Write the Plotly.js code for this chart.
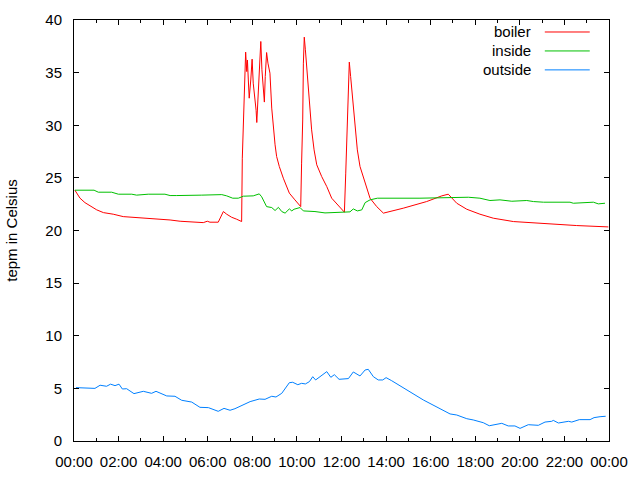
<!DOCTYPE html>
<html>
<head>
<meta charset="utf-8">
<script src="https://cdn.plot.ly/plotly-3.0.1.min.js"></script>
<style>
  body { margin: 0; background: #fff; }
  #plot { width: 640px; height: 480px; }
</style>
</head>
<body>
<div id="plot"></div>
<script>
// hours of the day for each series, temperatures
let boilerHours = [0.04, 0.27, 0.49, 0.72, 1.02, 1.32, 1.76, 2.21, 2.89, 3.56, 4.31, 4.76, 5.65, 5.8, 5.98, 6.1, 6.47, 6.7, 6.85, 7.07, 7.3, 7.49,
    7.52, 7.55, 7.6, 7.64, 7.7, 7.75, 7.78, 7.82, 7.86, 7.93, 7.99, 8.04, 8.11, 8.17, 8.2, 8.27, 8.31, 8.38, 8.43, 8.49, 8.54, 8.58, 8.64, 8.7, 8.79,
    8.87, 8.94, 9.02, 9.09, 9.21, 9.39, 9.66, 9.91, 10.17, 10.21, 10.26, 10.29, 10.33, 10.38, 10.44, 10.51, 10.59, 10.66, 10.77, 10.89, 11.11,
    11.34, 11.56, 11.86, 12.13, 12.19, 12.24, 12.31, 12.35, 12.41, 12.5, 12.6, 12.71, 12.83, 13.06, 13.28, 13.58, 13.88, 14.77, 15.82, 16.5,
    16.79, 17.17, 17.62, 18.21, 18.81, 19.71, 20.91, 21.8, 22.55, 23.97];
let boilerTemp = [23.83, 23.07, 22.65, 22.37, 21.96, 21.7, 21.55, 21.32, 21.23, 21.13, 21.0, 20.88, 20.82, 20.75, 20.88, 20.79, 20.79, 21.8, 21.55, 21.26, 21.07, 20.85,
    20.85, 26.87, 30.83, 34.0, 36.95, 35.1, 36.2, 34.3, 32.57, 34.3, 36.28, 34.0, 32.73, 31.4, 30.26, 33.7, 35.9, 37.96, 35.27, 33.05, 32.2, 34.63, 36.91, 35.9, 34.95,
    31.63, 29.56, 28.14, 27.03, 26.08, 24.97, 23.55, 22.91, 22.27, 26.4, 30.5, 35.9, 38.37, 37.17, 35.58, 34.0, 31.78, 29.56, 27.66, 26.24, 25.13,
    24.17, 23.07, 22.37, 21.74, 25.45, 29.56, 34.32, 36.0, 34.63, 32.41, 29.56, 27.66, 26.08, 24.5, 23.07, 22.27, 21.65, 22.12, 22.75, 23.29,
    23.45, 22.59, 22.02, 21.55, 21.17, 20.85, 20.66, 20.56, 20.47, 20.34];

let insideHours = [0.04, 0.9, 1.09, 1.69, 1.99, 2.59, 2.81, 3.33, 4.08, 4.31, 4.61, 5.06, 5.73, 6.63, 6.85, 7.12, 7.37, 7.6, 8.04, 8.31, 8.42,
    8.64, 8.87, 9.02, 9.17, 9.32, 9.47, 9.66, 9.77, 9.87, 10.14, 10.29, 10.81, 11.26, 11.71, 11.93, 12.38, 12.53, 12.71, 12.91, 13.06, 13.28,
    13.61, 15.52, 17.69, 18.21, 18.66, 19.11, 19.64, 20.31, 20.61, 21.06, 22.25, 22.4, 23.3, 23.52, 23.82];
let insideTemp = [23.83, 23.83, 23.64, 23.64, 23.45, 23.45, 23.36, 23.45, 23.45, 23.32, 23.32, 23.36, 23.36, 23.41, 23.29, 23.07, 23.07, 23.26, 23.29, 23.48, 23.2,
    22.27, 22.18, 21.9, 22.2, 21.8, 21.65, 22.05, 21.86, 22.02, 22.18, 21.86, 21.8, 21.67, 21.7, 21.77, 21.77, 22.05, 21.86, 21.96, 22.65, 22.91,
    23.07, 23.07, 23.16, 23.07, 22.85, 22.91, 22.78, 22.85, 22.75, 22.69, 22.69, 22.59, 22.69, 22.53, 22.59];

let outsideHours = [0.09, 0.94, 1.17, 1.46, 1.64, 1.84, 2.02, 2.17, 2.36, 2.59, 2.69, 3.11, 3.48, 3.68, 4.16, 4.53, 4.83, 5.28, 5.65, 6.03,
    6.47, 6.73, 7.0, 7.22, 7.52, 7.9, 8.31, 8.57, 8.87, 9.06, 9.32, 9.66, 9.81, 10.04, 10.21, 10.38, 10.56, 10.71, 10.84, 11.04, 11.34, 11.52,
    11.68, 11.89, 12.31, 12.53, 12.83, 13.06, 13.2, 13.43, 13.65, 13.85, 14.0, 14.25, 14.92, 15.67, 16.42, 16.87, 17.17, 17.62, 17.91, 18.36,
    18.63, 18.89, 19.19, 19.48, 19.78, 20.01, 20.38, 20.83, 21.13, 21.43, 21.5, 21.73, 21.95, 22.18, 22.33, 22.67, 23.15, 23.33, 23.6, 23.85];
let outsideTemp = [5.07, 5.0, 5.3, 5.2, 5.4, 5.26, 5.4, 4.94, 4.97, 4.69, 4.5, 4.72, 4.53, 4.72, 4.28, 4.25, 3.87, 3.7, 3.2, 3.17,
    2.82, 3.1, 2.92, 3.07, 3.39, 3.74, 3.99, 3.96, 4.25, 4.18, 4.53, 5.54, 5.58, 5.35, 5.48, 5.42, 5.64, 6.11, 5.8, 6.11, 6.59, 6.05,
    6.3, 5.86, 5.93, 6.56, 6.18, 6.75, 6.81, 6.11, 5.8, 5.8, 6.02, 5.73, 4.85, 3.9, 3.07, 2.57, 2.47, 2.12, 2.0, 1.74,
    1.45, 1.59, 1.68, 1.43, 1.43, 1.2, 1.55, 1.49, 1.8, 1.87, 1.96, 1.71, 1.8, 1.87, 1.8, 2.03, 2.03, 2.22, 2.31, 2.35];

let seriesNames = ['boiler', 'inside', 'outside'];
let seriesColors = ['#ff0000', '#00c000', '#0080ff'];

let tickHours = [0, 2, 4, 6, 8, 10, 12, 14, 16, 18, 20, 22, 24];
let tickLabels = ['00:00', '02:00', '04:00', '06:00', '08:00', '10:00', '12:00', '14:00', '16:00', '18:00', '20:00', '22:00', '00:00'];

let plot = document.getElementById('plot');
let font = {family: 'Liberation Sans, Arial, sans-serif', size: 15, color: '#000'};

let xs = [boilerHours, insideHours, outsideHours];
let ys = [boilerTemp, insideTemp, outsideTemp];

let traces = seriesNames.map((name, i) => ({
    x: xs[i],
    y: ys[i],
    mode: 'lines',
    name: name,
    line: {color: seriesColors[i], width: 1},
    showlegend: false
}));

// gnuplot style key: text on the left, sample line on the right
let annotations = [];
let shapes = [];
seriesNames.forEach((name, i) => {
    let yk = 0.9715 - i * 0.045;
    annotations.push({
        xref: 'paper', yref: 'paper', x: 0.858, y: yk,
        xanchor: 'right', yanchor: 'middle', showarrow: false,
        text: name, font: font
    });
    shapes.push({
        type: 'line', xref: 'paper', yref: 'paper',
        x0: 0.88, x1: 0.964, y0: yk, y1: yk,
        line: {color: seriesColors[i], width: 1}
    });
});

let layout = {
    width: 640,
    height: 480,
    margin: {l: 74, r: 31, t: 20, b: 39},
    paper_bgcolor: '#fff',
    plot_bgcolor: '#fff',
    font: font,
    showlegend: false,
    xaxis: {
        range: [0, 24],
        tickvals: tickHours,
        ticktext: tickLabels,
        ticks: 'inside',
        ticklen: 5,
        tickcolor: '#000',
        showline: true,
        linecolor: '#000',
        linewidth: 1,
        mirror: 'allticks',
        showgrid: false,
        zeroline: false,
        tickfont: font,
        ticklabelstandoff: 7,
        minor: {dtick: 1, ticks: 'inside', ticklen: 3, tickcolor: '#000', showgrid: false}
    },
    yaxis: {
        range: [0, 40],
        dtick: 5,
        ticks: 'inside',
        ticklen: 5,
        tickcolor: '#000',
        showline: true,
        linecolor: '#000',
        linewidth: 1,
        mirror: 'allticks',
        showgrid: false,
        zeroline: false,
        tickfont: font,
        ticklabelstandoff: 8,
        title: {text: 'tepm in Celsius', font: font, standoff: 24}
    },
    annotations: annotations,
    shapes: shapes
};

Plotly.newPlot(plot, traces, layout, {staticPlot: true});
</script>
</body>
</html>
